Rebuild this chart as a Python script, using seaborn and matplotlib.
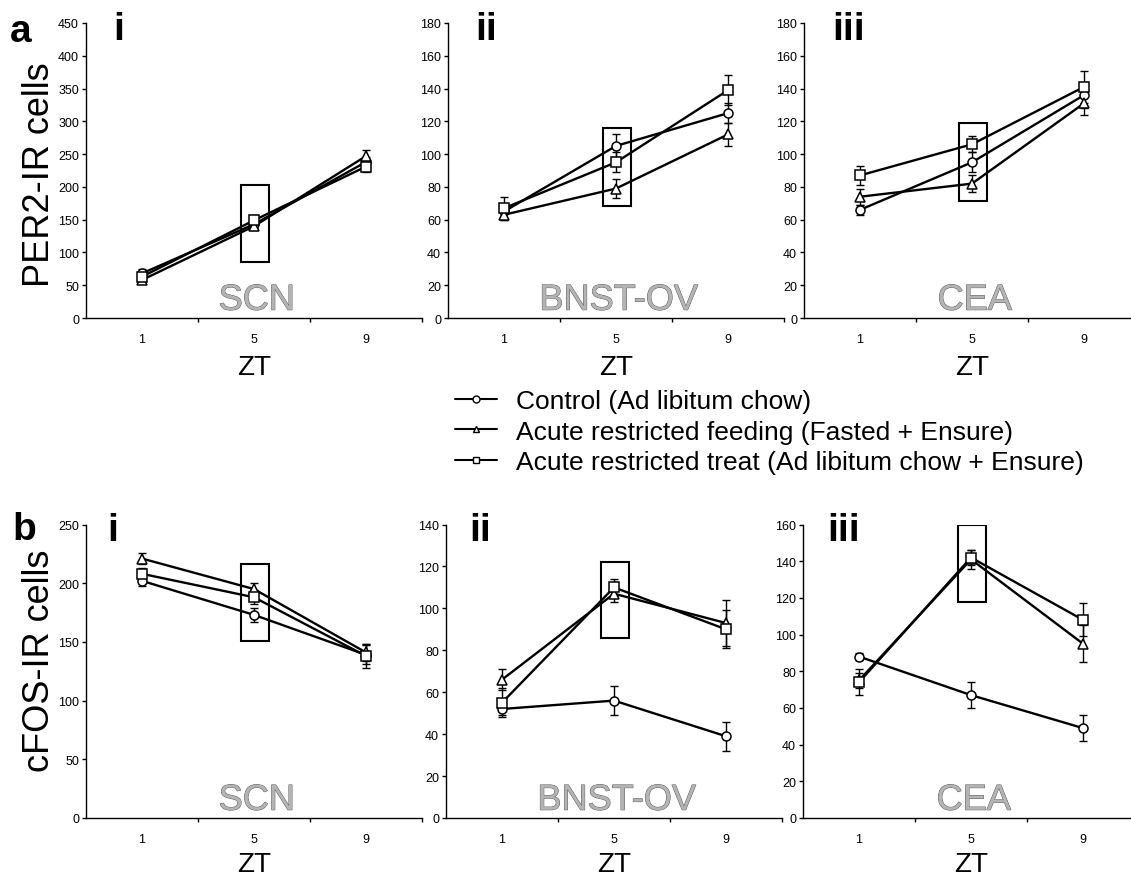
import matplotlib
matplotlib.use("Agg")
import numpy as np
import pandas as pd
import seaborn as sns
import matplotlib.pyplot as plt
from matplotlib import font_manager as fm
from matplotlib.lines import Line2D
from matplotlib.patches import Rectangle
import matplotlib.patheffects as pe

# ---------------- data ----------------
zt = [1, 5, 9]
groups = ["Control (Ad libitum chow)",
          "Acute restricted feeding (Fasted + Ensure)",
          "Acute restricted treat (Ad libitum chow + Ensure)"]
regions = ["SCN", "BNST-OV", "CEA"]

# PER2-IR cells (row a)
per2_scn_control = [68, 143, 238]
per2_scn_fed = [58, 140, 247]
per2_scn_treat = [63, 149, 231]
per2_scn_err_control = [6, 6, 8]
per2_scn_err_fed = [5, 6, 10]
per2_scn_err_treat = [6, 8, 9]

per2_bnst_control = [65, 105, 125]
per2_bnst_fed = [63, 79, 112]
per2_bnst_treat = [67, 95, 139]
per2_bnst_err_control = [4, 7, 6]
per2_bnst_err_fed = [3, 6, 7]
per2_bnst_err_treat = [7, 6, 9]

per2_cea_control = [66, 95, 136]
per2_cea_fed = [74, 82, 131]
per2_cea_treat = [87, 106, 141]
per2_cea_err_control = [3, 6, 8]
per2_cea_err_fed = [5, 5, 7]
per2_cea_err_treat = [6, 5, 10]

# cFOS-IR cells (row b)
cfos_scn_control = [202, 173, 139]
cfos_scn_fed = [221, 195, 141]
cfos_scn_treat = [208, 188, 138]
cfos_scn_err_control = [4, 6, 8]
cfos_scn_err_fed = [5, 5, 7]
cfos_scn_err_treat = [5, 6, 10]

cfos_bnst_control = [52, 56, 39]
cfos_bnst_fed = [66, 107, 93]
cfos_bnst_treat = [55, 110, 90]
cfos_bnst_err_control = [3, 7, 7]
cfos_bnst_err_fed = [5, 4, 11]
cfos_bnst_err_treat = [7, 4, 9]

cfos_cea_control = [88, 67, 49]
cfos_cea_fed = [75, 141, 95]
cfos_cea_treat = [74, 142, 108]
cfos_cea_err_control = [2, 7, 7]
cfos_cea_err_fed = [4, 5, 10]
cfos_cea_err_treat = [7, 4, 9]

# highlighted ZT5 boxes (y-range, in cells)
per2_box_lo = [86, 68.5, 71.6]
per2_box_hi = [203, 116, 118.8]
cfos_box_lo = [151, 86, 118]
cfos_box_hi = [216, 122, 160]

per2_ymax = [450, 180, 180]
per2_ystep = [50, 20, 20]
cfos_ymax = [250, 140, 160]
cfos_ystep = [50, 20, 20]

row_labels = ["PER2-IR cells", "cFOS-IR cells"]
panel_letters = ["a", "b"]
panel_numerals = ["i", "ii", "iii"]

# ---------------- style ----------------
sns.set_theme(style="ticks")
names = {f.name for f in fm.fontManager.ttflist}
SANS = "Liberation Sans" if "Liberation Sans" in names else "DejaVu Sans"
NARROW = "Liberation Sans Narrow" if "Liberation Sans Narrow" in names else SANS
plt.rcParams["font.family"] = [SANS, "DejaVu Sans"]
plt.rcParams["text.color"] = "black"
plt.rcParams["xtick.color"] = "black"
plt.rcParams["ytick.color"] = "black"
plt.rcParams["xtick.labelcolor"] = "black"
plt.rcParams["ytick.labelcolor"] = "black"

W, H = 1131, 878
fig = plt.figure(figsize=(W / 100, H / 100), dpi=100)
fig.patch.set_facecolor("white")

markers = {groups[0]: "o", groups[1]: "^", groups[2]: "s"}

rows = [
    dict(vals=[(per2_scn_control, per2_scn_fed, per2_scn_treat),
               (per2_bnst_control, per2_bnst_fed, per2_bnst_treat),
               (per2_cea_control, per2_cea_fed, per2_cea_treat)],
         errs=[(per2_scn_err_control, per2_scn_err_fed, per2_scn_err_treat),
               (per2_bnst_err_control, per2_bnst_err_fed, per2_bnst_err_treat),
               (per2_cea_err_control, per2_cea_err_fed, per2_cea_err_treat)],
         lo=per2_box_lo, hi=per2_box_hi, ymax=per2_ymax, ystep=per2_ystep,
         lefts=[86, 448, 804], top=24, bottom=319,
         num_x=[113, 475, 832], num_base=40),
    dict(vals=[(cfos_scn_control, cfos_scn_fed, cfos_scn_treat),
               (cfos_bnst_control, cfos_bnst_fed, cfos_bnst_treat),
               (cfos_cea_control, cfos_cea_fed, cfos_cea_treat)],
         errs=[(cfos_scn_err_control, cfos_scn_err_fed, cfos_scn_err_treat),
               (cfos_bnst_err_control, cfos_bnst_err_fed, cfos_bnst_err_treat),
               (cfos_cea_err_control, cfos_cea_err_fed, cfos_cea_err_treat)],
         lo=cfos_box_lo, hi=cfos_box_hi, ymax=cfos_ymax, ystep=cfos_ystep,
         lefts=[86, 446, 803], top=525.5, bottom=819,
         num_x=[107, 469, 827], num_base=541),
]

PW = 336
for r, row in enumerate(rows):
    for c in range(3):
        left = row["lefts"][c]
        ax = fig.add_axes([left / W, 1 - row["bottom"] / H, PW / W,
                           (row["bottom"] - row["top"]) / H])
        ax.set_facecolor("none")
        recs = []
        for g, v, e in zip(groups, row["vals"][c], row["errs"][c]):
            for x, vv, ee in zip(zt, v, e):
                recs.append(dict(ZT=x, value=vv, err=ee, group=g))
        df = pd.DataFrame(recs)
        for g in groups:
            sub = df[df.group == g]
            ax.errorbar(sub.ZT, sub.value, yerr=sub.err, fmt="none",
                        ecolor="black", elinewidth=1.0, capsize=3,
                        capthick=1.0, zorder=2)
        sns.lineplot(data=df, x="ZT", y="value", style="group",
                     markers=markers, dashes=False, color="black",
                     linewidth=1.7, markersize=6.5, markerfacecolor="white",
                     markeredgecolor="black", markeredgewidth=1.1,
                     errorbar=None, legend=False, ax=ax, zorder=3)
        ax.add_patch(Rectangle((4.55, row["lo"][c]), 1.0,
                               row["hi"][c] - row["lo"][c], fill=False,
                               lw=1.5, ec="black", zorder=4))
        ymax = row["ymax"][c]
        ax.set_xlim(-1, 11)
        ax.set_ylim(0, ymax)
        yt = np.arange(0, ymax + 1, row["ystep"][c])
        ax.set_yticks(yt)
        ax.set_yticklabels([str(int(t)) for t in yt], fontsize=9,
                           fontfamily=NARROW, color="black")
        ax.set_xticks(zt)
        ax.set_xticklabels([str(z) for z in zt], fontsize=9,
                           fontfamily=NARROW, color="black")
        ax.set_xticks([3, 7, 11], minor=True)
        ax.tick_params(axis="x", which="major", length=0, pad=11)
        ax.tick_params(axis="x", which="minor", length=3, width=1,
                       direction="out", color="black")
        ax.tick_params(axis="y", length=3, width=1, direction="out",
                       pad=2, color="black", labelcolor="black")
        for s in ["top", "right"]:
            ax.spines[s].set_visible(False)
        for s in ["left", "bottom"]:
            ax.spines[s].set_color("black")
            ax.spines[s].set_linewidth(1.0)
        ax.set_xlabel("")
        ax.set_ylabel("")
        ph = row["bottom"] - row["top"]
        ax.text(5, -(53 if r else 56) / ph, "ZT",
                transform=ax.get_xaxis_transform(), ha="center",
                va="baseline", fontsize=20, color="black")
        ax.text(5.1, 0.028, regions[c], transform=ax.get_xaxis_transform(),
                ha="center", va="baseline", fontsize=26, color="#b4b4b4",
                path_effects=[pe.withStroke(linewidth=0.7,
                                            foreground="#5e5e5e")],
                zorder=1)
        fig.text(row["num_x"][c] / W, 1 - row["num_base"] / H,
                 panel_numerals[c], ha="left", va="baseline", fontsize=28,
                 fontweight="bold", fontfamily=NARROW, color="black")
    fig.text((10 if r == 0 else 12) / W, 1 - (42 if r == 0 else 540) / H,
             panel_letters[r], ha="left", va="baseline", fontsize=28,
             fontweight="bold", color="black")
    fig.text(40 / W, 1 - (175 if r == 0 else 661) / H, row_labels[r],
             rotation=90, ha="center", va="center", fontsize=26,
             color="black")

handles = [Line2D([], [], color="black", lw=1.5, marker=markers[g],
                  markersize=5, markerfacecolor="white",
                  markeredgecolor="black", markeredgewidth=1.0)
           for g in groups]
leg = fig.legend(handles, groups, loc="upper left",
                 bbox_to_anchor=(455 / W, 1 - 390 / H), frameon=False,
                 fontsize=19, handlelength=1.6, handletextpad=0.7,
                 labelspacing=0.25, borderpad=0, borderaxespad=0)
for t in leg.get_texts():
    t.set_color("black")

fig.savefig("out.png", dpi=100, facecolor="white")
